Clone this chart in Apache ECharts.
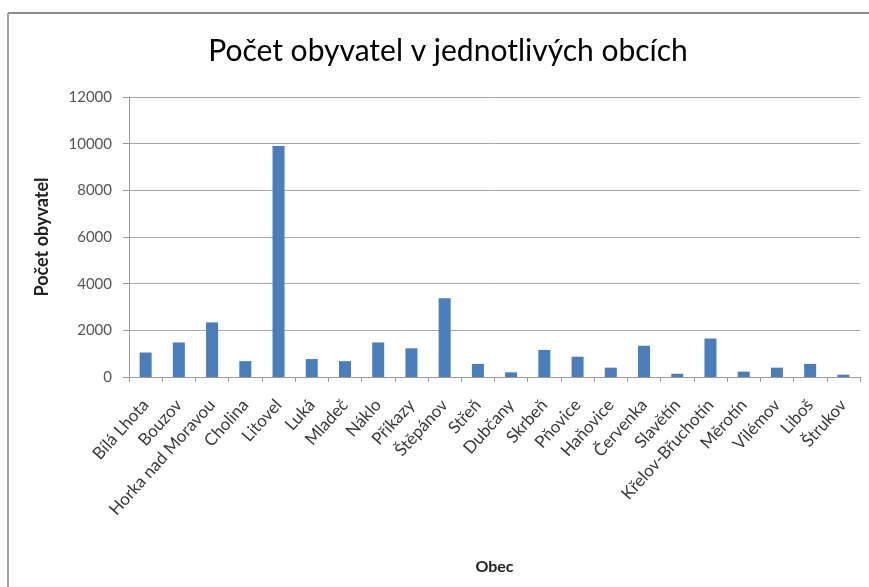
<!DOCTYPE html>
<html><head><meta charset="utf-8">
<script src="https://cdn.jsdelivr.net/npm/echarts@6/dist/echarts.min.js"></script>
<style>html,body{margin:0;padding:0;background:#fff}#c{width:869px;height:587px}</style>
</head><body><div id="c"></div>
<script>
const categories = ["Bílá Lhota","Bouzov","Horka nad Moravou","Cholina","Litovel","Luká","Mladeč","Náklo","Příkazy","Štěpánov","Střeň","Dubčany","Skrbeň","Pňovice","Haňovice","Červenka","Slavětín","Křelov-Břuchotín","Měrotín","Vilémov","Liboš","Štrukov"];
const population = [1050,1480,2340,680,9900,770,680,1480,1230,3380,560,200,1160,870,400,1340,140,1650,230,400,560,100];
const yTicks = [0,2000,4000,6000,8000,10000,12000];

const FONT = 'Lato, "Open Sans", sans-serif';
const chart = echarts.init(document.getElementById('c'), null, {renderer:'canvas'});
chart.setOption({
  animation:false,
  backgroundColor:'#fff',
  graphic:[
    {type:'line', shape:{x1:8,y1:13,x2:869,y2:13}, style:{stroke:'#8c8c8c',lineWidth:2}},
    {type:'line', shape:{x1:8,y1:13,x2:8,y2:587}, style:{stroke:'#a0a0a0',lineWidth:2}}
  ],
  title:{text:'Počet obyvatel v jednotlivých obcích', left:443, textAlign:'center', top:31,
    textStyle:{fontFamily:FONT, fontSize:30, fontWeight:'normal', color:'#000'}},
  grid:{left:129, right:9, top:97, bottom:210},
  xAxis:{type:'category', data:categories,
    name:'Obec', nameLocation:'middle', nameGap:182,
    nameTextStyle:{fontFamily:FONT, fontSize:16, fontWeight:'bold', color:'#222'},
    axisLine:{lineStyle:{color:'#9a9a9a'}},
    axisTick:{show:true, length:5, lineStyle:{color:'#9a9a9a'}},
    axisLabel:{rotate:48, interval:0, fontFamily:FONT, fontSize:17, color:'#383838', margin:25}},
  yAxis:{type:'value', min:0, max:12000, interval:2000,
    name:'Počet obyvatel', nameLocation:'middle', nameGap:78, nameRotate:90,
    nameTextStyle:{fontFamily:FONT, fontSize:18, fontWeight:'bold', color:'#222'},
    axisLine:{show:true, lineStyle:{color:'#9a9a9a'}},
    axisTick:{show:true, length:6, lineStyle:{color:'#9a9a9a'}},
    splitLine:{lineStyle:{color:'#a6a6a6'}},
    axisLabel:{fontFamily:FONT, fontSize:15, color:'#555', margin:17,
      formatter:v=>yTicks.includes(v)?String(v):''}},
  series:[{type:'bar', data:population, barWidth:12, itemStyle:{color:'#4a7ebb'}}]
});
</script></body></html>
